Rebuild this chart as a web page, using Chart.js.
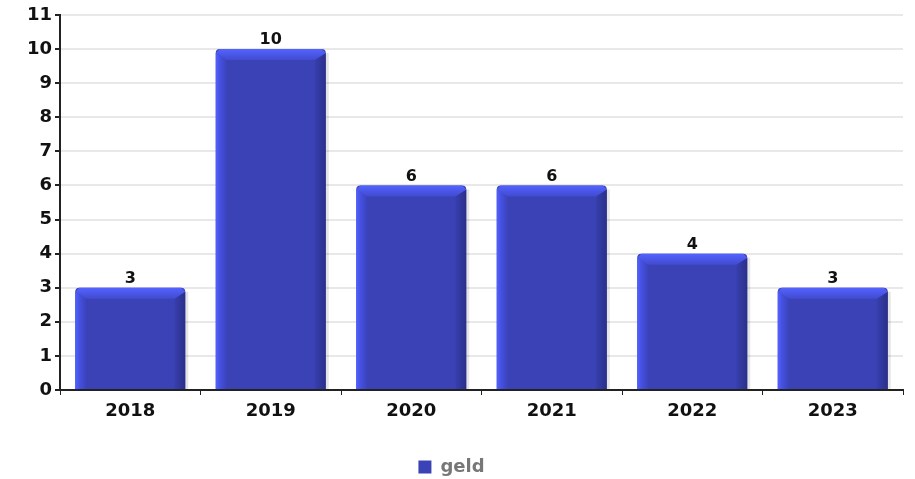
<!DOCTYPE html>
<html>
<head>
<meta charset="utf-8">
<script src="https://cdn.jsdelivr.net/npm/chart.js@4"></script>
<style>
  html, body { margin: 0; padding: 0; background: #fff; }
  #wrap { width: 915px; height: 479px; position: relative; }
</style>
</head>
<body>
<div id="wrap"><canvas id="chart"></canvas></div>
<script>
// --- DATA ---
const years = ['2018', '2019', '2020', '2021', '2022', '2023'];
const geld = [3, 10, 6, 6, 4, 3];
const yTicks = [0, 1, 2, 3, 4, 5, 6, 7, 8, 9, 10, 11];

const FONT = "'DejaVu Sans', sans-serif";

// bevelled 3D look on top of each bar, using the bar positions from Chart.js
const bevelPlugin = {
    id: 'bevel',
    beforeDatasetsDraw(chart) {
        // soft grey shadow on the right side of each bar
        const ctx = chart.ctx;
        ctx.save();
        chart.getDatasetMeta(0).data.forEach(bar => {
            const right = bar.x + bar.width / 2;
            ctx.fillStyle = 'rgba(0,0,0,0.10)';
            ctx.fillRect(right, bar.y + 4, 3, bar.base - bar.y - 4);
        });
        ctx.restore();
    },
    afterDatasetsDraw(chart) {
        const ctx = chart.ctx;
        const b = 11;
        const c = 4;
        chart.getDatasetMeta(0).data.forEach(bar => {
            const left = bar.x - bar.width / 2;
            const right = bar.x + bar.width / 2;
            const top = bar.y;
            const bottom = bar.base;
            ctx.save();
            // left light edge
            let g = ctx.createLinearGradient(left, 0, left + b, 0);
            g.addColorStop(0, '#5161ff');
            g.addColorStop(0.4, '#4550e0');
            g.addColorStop(1, '#3b43bb');
            ctx.fillStyle = g;
            ctx.beginPath();
            ctx.moveTo(left, top + c);
            ctx.lineTo(left + b, top + b);
            ctx.lineTo(left + b, bottom);
            ctx.lineTo(left, bottom);
            ctx.closePath();
            ctx.fill();
            // right dark edge
            g = ctx.createLinearGradient(right - b, 0, right, 0);
            g.addColorStop(0, '#383fb0');
            g.addColorStop(1, '#2a3088');
            ctx.fillStyle = g;
            ctx.beginPath();
            ctx.moveTo(right, top + c);
            ctx.lineTo(right - b, top + b);
            ctx.lineTo(right - b, bottom);
            ctx.lineTo(right, bottom);
            ctx.closePath();
            ctx.fill();
            // top face
            g = ctx.createLinearGradient(0, top, 0, top + b);
            g.addColorStop(0, '#5363ff');
            g.addColorStop(1, '#414bd0');
            ctx.fillStyle = g;
            ctx.beginPath();
            ctx.moveTo(left + c, top);
            ctx.lineTo(right - c, top);
            ctx.lineTo(right, top + c);
            ctx.lineTo(right - b, top + b);
            ctx.lineTo(left + b, top + b);
            ctx.lineTo(left, top + c);
            ctx.closePath();
            ctx.fill();
            ctx.restore();
        });
    }
};

// value above every bar
const valueLabels = {
    id: 'valueLabels',
    afterDatasetsDraw(chart) {
        const ctx = chart.ctx;
        const meta = chart.getDatasetMeta(0);
        ctx.save();
        ctx.font = "bold 16px " + FONT;
        ctx.fillStyle = '#111';
        ctx.textAlign = 'center';
        ctx.textBaseline = 'bottom';
        meta.data.forEach((bar, i) => {
            ctx.fillText(String(geld[i]), bar.x, bar.y - 1);
        });
        ctx.restore();
    }
};

new Chart(document.getElementById('chart'), {
    type: 'bar',
    data: {
        labels: years,
        datasets: [{
            label: 'geld',
            data: geld,
            backgroundColor: '#3b42b6',
            borderWidth: 0,
            borderRadius: { topLeft: 4, topRight: 4 },
            borderSkipped: 'bottom',
            categoryPercentage: 0.783,
            barPercentage: 1.0
        }]
    },
    options: {
        responsive: true,
        maintainAspectRatio: false,
        animation: false,
        layout: { padding: { top: 15, right: 12, left: 0, bottom: -7 } },
        plugins: {
            tooltip: { enabled: false },
            legend: {
                position: 'bottom',
                labels: {
                    boxWidth: 13,
                    boxHeight: 13,
                    padding: 4,
                    color: '#777',
                    font: { family: FONT, size: 18, weight: 'bold' }
                }
            }
        },
        scales: {
            y: {
                min: 0,
                max: 11,
                afterBuildTicks: axis => { axis.ticks = yTicks.map(v => ({ value: v })); },
                afterFit: axis => { axis.width = 60; },
                border: { color: '#222', width: 2 },
                grid: { color: '#e8e8e8', lineWidth: 2, tickColor: '#222', tickLength: 5 },
                ticks: {
                    color: '#111',
                    padding: 3,
                    font: { family: FONT, size: 18, weight: 'bold' }
                }
            },
            x: {
                afterFit: axis => { axis.height = 64; },
                border: { color: '#222', width: 2 },
                grid: { offset: true, drawOnChartArea: false, tickColor: '#222', tickLength: 5 },
                ticks: {
                    color: '#111',
                    padding: 6,
                    font: { family: FONT, size: 18, weight: 'bold' }
                }
            }
        }
    },
    plugins: [bevelPlugin, valueLabels]
});
</script>
</body>
</html>
